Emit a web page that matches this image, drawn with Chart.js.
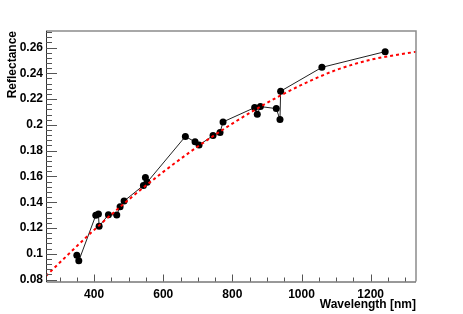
<!DOCTYPE html>
<html>
<head>
<meta charset="utf-8">
<script src="https://cdn.jsdelivr.net/npm/chart.js@4.4.1/dist/chart.umd.min.js"></script>
<style>
html, body { margin: 0; padding: 0; background: #fff; }
</style>
</head>
<body>
<canvas id="reflectancechart" width="463" height="314"></canvas>
<script>
// measured points
var wavelength = [350, 355.7, 404.8, 412.5, 414.5, 441.4, 465.5, 475.2, 486.7, 542.6, 548.4, 553.2, 664, 692, 703.6, 744, 764.3, 773, 864.5, 872, 881, 927, 937.7, 939.6, 1059, 1242];
var reflectance = [0.0988, 0.0945, 0.1298, 0.1308, 0.1213, 0.1303, 0.1301, 0.1365, 0.1409, 0.1530, 0.1592, 0.1554, 0.1910, 0.1868, 0.1843, 0.1917, 0.1941, 0.2023, 0.2134, 0.2083, 0.2142, 0.2126, 0.2041, 0.2261, 0.2446, 0.2568];

// fit curve (red dashed)
var fitwavelength = [261, 300, 400, 500, 600, 700, 800, 900, 1000, 1100, 1200, 1331];
var fitreflectance = [0.0828, 0.0930, 0.1185, 0.1420, 0.1635, 0.1832, 0.2010, 0.2170, 0.2310, 0.2425, 0.2505, 0.2567];

var xticklabels = ['400', '600', '800', '1000', '1200'];
var yticklabels = ['0.08', '0.1', '0.12', '0.14', '0.16', '0.18', '0.2', '0.22', '0.24', '0.26'];

function topoints(xs, ys) {
    var out = [];
    for (var i = 0; i < xs.length; i++) out.push({x: xs[i], y: ys[i]});
    return out;
}

var labelfont = {family: '"Liberation Sans", Arial, sans-serif', size: 12, weight: 'bold'};

// ROOT style frame + ticks pointing inwards
var rootframe = {
    id: 'rootframe',
    afterDraw: function(chart) {
        var ctx = chart.ctx, a = chart.chartArea;
        var xs = chart.scales.x, ys = chart.scales.y;
        ctx.save();
        ctx.strokeStyle = '#8c8c8c';
        ctx.lineWidth = 1.5;
        ctx.beginPath();
        ctx.moveTo(a.left, a.top);
        ctx.lineTo(a.right, a.top);
        ctx.lineTo(a.right, a.bottom);
        ctx.stroke();

        ctx.strokeStyle = '#333';
        ctx.lineWidth = 1;
        ctx.beginPath();
        ctx.moveTo(a.left + 0.5, a.top);
        ctx.lineTo(a.left + 0.5, a.bottom + 0.5);
        ctx.lineTo(a.right, a.bottom + 0.5);
        ctx.stroke();

        ctx.strokeStyle = '#555';
        ctx.beginPath();
        for (var v = 300; v <= 1300; v += 50) {
            var px = Math.round(xs.getPixelForValue(v)) + 0.5;
            var len = (v % 200 === 0) ? 7 : 4;
            ctx.moveTo(px, a.bottom);
            ctx.lineTo(px, a.bottom - len);
        }
        for (var i = 0; i < 60; i++) {
            var val = 0.08 + i * 0.004;
            if (val > ys.max) break;
            var py = Math.round(ys.getPixelForValue(val)) + 0.5;
            var l = (i % 5 === 0) ? 11 : 6;
            ctx.moveTo(a.left, py);
            ctx.lineTo(a.left + l, py);
        }
        ctx.stroke();
        ctx.restore();
    }
};

var ctx = document.getElementById('reflectancechart');
var chart = new Chart(ctx, {
    type: 'scatter',
    data: {
        datasets: [{
            label: 'fit',
            data: topoints(fitwavelength, fitreflectance),
            showLine: true,
            borderColor: '#ff0000',
            borderWidth: 2,
            borderDash: [3, 3],
            pointRadius: 0,
            cubicInterpolationMode: 'monotone'
        }, {
            label: 'Reflectance',
            data: topoints(wavelength, reflectance),
            showLine: true,
            borderColor: '#222',
            borderWidth: 1,
            pointRadius: 3.5,
            pointBackgroundColor: '#000',
            pointBorderColor: '#000',
            pointBorderWidth: 0
        }]
    },
    options: {
        responsive: false,
        animation: false,
        layout: {padding: {left: 0, top: 31, right: 47, bottom: 2}},
        plugins: {legend: {display: false}, tooltip: {enabled: false}},
        scales: {
            x: {
                type: 'linear',
                min: 260.8,
                max: 1331.2,
                grid: {display: false, drawTicks: false},
                border: {display: false},
                afterFit: function(scale) { scale.height = 30.5; },
                afterBuildTicks: function(scale) {
                    scale.ticks = xticklabels.map(function(t) { return {value: parseFloat(t)}; });
                },
                ticks: {
                    autoSkip: false,
                    maxRotation: 0,
                    padding: 6,
                    color: '#000',
                    font: labelfont,
                    callback: function(value) { return xticklabels[xticklabels.indexOf(String(value))] || String(value); }
                },
                title: {
                    display: true,
                    text: 'Wavelength [nm]',
                    align: 'end',
                    color: '#000',
                    font: labelfont,
                    padding: {top: 0, bottom: 0}
                }
            },
            y: {
                type: 'linear',
                min: 0.0785,
                max: 0.2728,
                grid: {display: false, drawTicks: false},
                border: {display: false},
                afterFit: function(scale) { scale.width = 46; },
                afterBuildTicks: function(scale) {
                    scale.ticks = yticklabels.map(function(t) { return {value: parseFloat(t)}; });
                },
                ticks: {
                    autoSkip: false,
                    padding: 3,
                    color: '#000',
                    font: labelfont,
                    callback: function(value) {
                        for (var i = 0; i < yticklabels.length; i++) {
                            if (Math.abs(parseFloat(yticklabels[i]) - value) < 1e-6) return yticklabels[i];
                        }
                        return '';
                    }
                },
                title: {
                    display: true,
                    text: 'Reflectance',
                    align: 'end',
                    color: '#000',
                    font: labelfont,
                    padding: {top: 5, bottom: 0}
                }
            }
        }
    },
    plugins: [rootframe]
});
</script>
</body>
</html>
